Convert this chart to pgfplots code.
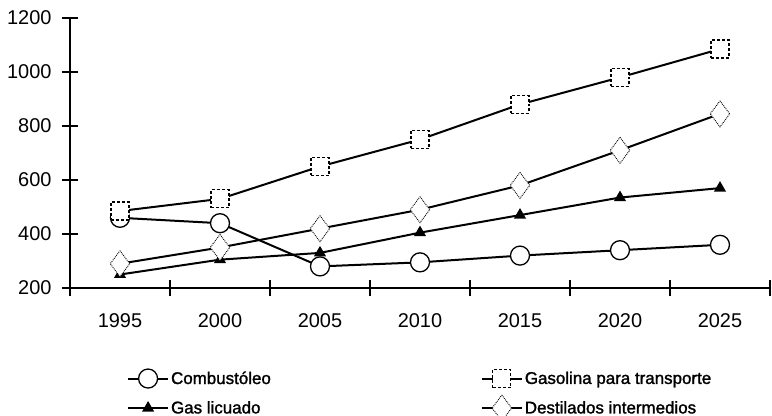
\documentclass[border=0pt]{standalone}
\usepackage{fontspec}
\setmainfont{Liberation Sans}
\newfontfamily\legfont{Liberation Sans}[FakeBold=1.5]
\usepackage{pgfplots}
\pgfplotsset{compat=1.18}
\begin{document}
\begin{tikzpicture}
\path[use as bounding box] (0,0) rectangle (772bp,416bp);
\begin{axis}[
  at={(70bp,128bp)}, anchor=south west,
  scale only axis, width=700bp, height=270bp,
  xmin=0, xmax=7, ymin=200, ymax=1200,
  axis x line=bottom, axis y line=left,
  axis line style={line width=1.8bp, -},
  xtick={0,1,2,3,4,5,6,7}, xticklabels={,,,,,,,},
  extra x ticks={0.5,1.5,2.5,3.5,4.5,5.5,6.5},
  extra x tick labels={1995,2000,2005,2010,2015,2020,2025},
  extra x tick style={major tick length=0pt, xticklabel style={yshift=-22bp}},
  ytick={200,400,600,800,1000,1200},
  tick align=center, major tick length=16bp,
  tick style={line width=1.5bp, black},
  /pgf/number format/assume math mode=true,
  /pgf/number format/1000 sep={},
  tick label style={font=\fontsize{20}{22}\selectfont},
  yticklabel style={xshift=-7bp},
  clip=false,
  legend columns=2,
  legend cell align=left,
  legend style={at={(0.077,-0.292)}, anchor=north west, draw=none, fill=none,
    font=\legfont\fontsize{17}{19}\selectfont,
    /tikz/every even column/.append style={column sep=208bp},
    row sep=7bp},
  legend image code/.code={\draw[mark repeat=2,mark phase=2,#1] plot coordinates {(0bp,0bp) (20bp,0bp) (40bp,0bp)};},
]
\addplot[black, line width=2bp, mark=*, mark size=9.5bp, mark options={fill=white, draw=black, line width=1.3bp, solid}]
  coordinates {(0.5,460) (1.5,440) (2.5,280) (3.5,295) (4.5,320) (5.5,340) (6.5,360)};
\addlegendentry{Combustóleo}
\addplot[black, line width=2bp, mark=square*, mark size=9bp, mark options={fill=white, draw=black, line width=1.1bp, densely dashed}]
  coordinates {(0.5,485) (1.5,530) (2.5,650) (3.5,750) (4.5,880) (5.5,980) (6.5,1085)};
\addlegendentry{Gasolina para transporte}
\addplot[black, line width=2bp, mark=triangle*, mark size=5bp, mark options={fill=black, draw=black, solid}]
  coordinates {(0.5,250) (1.5,305) (2.5,330) (3.5,405) (4.5,470) (5.5,535) (6.5,570)};
\addlegendentry{Gas licuado}
\addplot[black, line width=2bp, mark=diamond*, mark size=13bp, mark options={fill=white, draw=black, line width=0.9bp, densely dotted}]
  coordinates {(0.5,290) (1.5,350) (2.5,420) (3.5,490) (4.5,580) (5.5,710) (6.5,845)};
\addlegendentry{Destilados intermedios}
\end{axis}
\end{tikzpicture}
\end{document}
